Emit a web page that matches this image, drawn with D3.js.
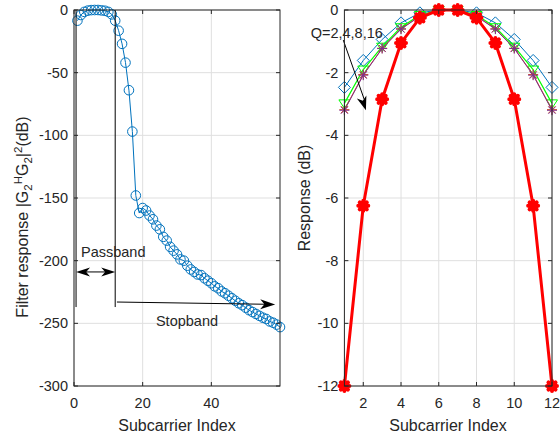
<!DOCTYPE html>
<html>
<head>
<meta charset="utf-8">
<script src="https://cdn.jsdelivr.net/npm/d3@7"></script>
<style>
  body { margin: 0; background: #fff; }
  text { font-family: "Liberation Sans", Arial, sans-serif; fill: #262626; }
</style>
</head>
<body>
<svg id="chart" width="560" height="441"></svg>
<script>
// left panel: filter response over 60 subcarriers
const filterIndex = [1, 2, 3, 4, 5, 6, 7, 8, 9, 10, 11, 12, 13, 14, 15, 16, 17, 18, 19, 20,
  21, 22, 23, 24, 25, 26, 27, 28, 29, 30, 31, 32, 33, 34, 35, 36, 37, 38, 39, 40,
  41, 42, 43, 44, 45, 46, 47, 48, 49, 50, 51, 52, 53, 54, 55, 56, 57, 58, 59, 60];
const filterDb = [-8.5, -4, -1.5, -0.5, -0.1, 0, 0, -0.3, -0.6, -1.5, -3.5, -8.5, -16.5, -27, -42, -64, -97, -148, -162, -158,
  -160, -164, -167, -172, -175, -181, -184, -189, -192, -195, -199, -200, -204, -207, -209, -211, -211.5, -214, -216, -218,
  -220.5, -222, -224.5, -226, -228, -230, -232, -234, -235.5, -237.5, -239.5, -241, -242.5, -244, -245.5, -246.5, -248.5, -249.5, -251, -253];
const leftXTicks = [0, 20, 40];
const leftYTicks = [0, -50, -100, -150, -200, -250, -300];

// right panel: response per subcarrier
const subcarriers = [1, 2, 3, 4, 5, 6, 7, 8, 9, 10, 11, 12];
const respBlue = [-2.47, -1.61, -0.94, -0.41, -0.09, 0, 0, -0.09, -0.41, -0.94, -1.61, -2.47];
const respGreen = [-2.98, -1.9, -1.17, -0.55, -0.16, 0, 0, -0.16, -0.55, -1.17, -1.9, -2.98];
const respOrange = [-3.18, -2.06, -1.22, -0.6, -0.19, 0, 0, -0.19, -0.6, -1.22, -2.06, -3.18];
const respPurple = [-3.2, -2.08, -1.23, -0.61, -0.2, 0, 0, -0.2, -0.61, -1.23, -2.08, -3.2];
const respRed = [-12, -6.25, -2.85, -1.05, -0.25, 0, 0, -0.25, -1.05, -2.85, -6.25, -12];
const rightXTicks = [2, 4, 6, 8, 10, 12];
const rightYTicks = [0, -2, -4, -6, -8, -10, -12];

const svg = d3.select("#chart");
const TICK = 4;

function drawGrid(x, y, xTicks, yTicks) {
  const [x0, x1] = x.range();
  const [y0, y1] = y.range();
  const g = svg.append("g").attr("stroke", "#dfdfdf").attr("stroke-width", 1);
  g.selectAll(".gx").data(xTicks).join("line")
    .attr("x1", x).attr("x2", x).attr("y1", y0).attr("y2", y1);
  g.selectAll(".gy").data(yTicks).join("line")
    .attr("y1", y).attr("y2", y).attr("x1", x0).attr("x2", x1);
}

function drawFrame(x, y, xTicks, yTicks) {
  const [x0, x1] = x.range();
  const [y0, y1] = y.range();
  const g = svg.append("g").attr("stroke", "#262626").attr("stroke-width", 1);
  g.append("rect").attr("x", x0).attr("y", y1).attr("width", x1 - x0).attr("height", y0 - y1)
    .attr("fill", "none");
  xTicks.forEach((t) => {
    g.append("line").attr("x1", x(t)).attr("x2", x(t)).attr("y1", y0).attr("y2", y0 - TICK);
    g.append("line").attr("x1", x(t)).attr("x2", x(t)).attr("y1", y1).attr("y2", y1 + TICK);
  });
  yTicks.forEach((t) => {
    g.append("line").attr("y1", y(t)).attr("y2", y(t)).attr("x1", x0).attr("x2", x0 + TICK);
    g.append("line").attr("y1", y(t)).attr("y2", y(t)).attr("x1", x1).attr("x2", x1 - TICK);
  });
  svg.append("g").selectAll("text").data(xTicks).join("text")
    .attr("x", x).attr("y", y0 + 22)
    .attr("text-anchor", "middle").style("font-size", "14.5px")
    .text((d) => d);
  svg.append("g").selectAll("text").data(yTicks).join("text")
    .attr("x", x0 - 6).attr("y", (d) => y(d) + 5)
    .attr("text-anchor", "end").style("font-size", "14.5px")
    .text((d) => d);
}

function arrowHead(x1, y1, x2, y2, len, half) {
  const a = Math.atan2(y2 - y1, x2 - x1);
  const c = Math.cos(a), s = Math.sin(a);
  const bx = x2 - len * c, by = y2 - len * s;
  const nx = x2 - len * 0.72 * c, ny = y2 - len * 0.72 * s;
  svg.append("path")
    .attr("d", `M${x2},${y2}L${bx - half * s},${by + half * c}L${nx},${ny}L${bx + half * s},${by - half * c}Z`)
    .attr("fill", "#000");
}

function starPath(r) {
  const d = r * 0.7071;
  return `M${-r},0L${r},0M0,${-r}L0,${r}M${-d},${-d}L${d},${d}M${-d},${d}L${d},${-d}`;
}

// ---------- left panel ----------
const xL = d3.scaleLinear().domain([0, 60]).range([74, 280]);
const yL = d3.scaleLinear().domain([-300, 0]).range([386, 10]);
drawGrid(xL, yL, leftXTicks, leftYTicks);

const leftPts = filterIndex.map((d, i) => [d, filterDb[i]]);
svg.append("path")
  .datum(leftPts)
  .attr("d", d3.line().x((d) => xL(d[0])).y((d) => yL(d[1])))
  .attr("fill", "none").attr("stroke", "#0072BD").attr("stroke-width", 1);
svg.append("g").selectAll("circle").data(leftPts).join("circle")
  .attr("cx", (d) => xL(d[0])).attr("cy", (d) => yL(d[1])).attr("r", 4.8)
  .attr("fill", "none").attr("stroke", "#0072BD").attr("stroke-width", 1);

// passband / stopband annotations
const passLo = 0.6, passHi = 12;
const ann = svg.append("g").attr("stroke", "#000").attr("stroke-width", 1);
ann.append("line").attr("x1", xL(passLo)).attr("x2", xL(passLo)).attr("y1", yL(0)).attr("y2", yL(-237));
ann.append("line").attr("x1", xL(passHi)).attr("x2", xL(passHi)).attr("y1", yL(0)).attr("y2", yL(-237));
ann.append("line").attr("x1", xL(passLo) + 6).attr("x2", xL(passHi) - 6).attr("y1", yL(-209)).attr("y2", yL(-209));
arrowHead(xL(passHi), yL(-209), xL(passLo), yL(-209), 14, 4.5);
arrowHead(xL(passLo), yL(-209), xL(passHi), yL(-209), 14, 4.5);
svg.append("text").attr("x", 81).attr("y", 257).style("font-size", "14.5px").text("Passband");

ann.append("line").attr("x1", xL(12.5)).attr("y1", yL(-233)).attr("x2", xL(58.6) - 8).attr("y2", yL(-234.8));
arrowHead(xL(12.5), yL(-233), xL(58.6), yL(-235), 15, 5);
svg.append("text").attr("x", 187).attr("y", 326).attr("text-anchor", "middle")
  .style("font-size", "14.5px").text("Stopband");

drawFrame(xL, yL, leftXTicks, leftYTicks);

svg.append("text").attr("x", 177).attr("y", 431).attr("text-anchor", "middle")
  .style("font-size", "16px").text("Subcarrier Index");

const yLab = svg.append("text")
  .attr("transform", "translate(27.5,217) rotate(-90)")
  .attr("text-anchor", "middle").style("font-size", "16px");
yLab.append("tspan").text("Filter response |G");
yLab.append("tspan").attr("dy", 4).style("font-size", "11.5px").text("2");
yLab.append("tspan").attr("dy", -10).style("font-size", "11.5px").text("H");
yLab.append("tspan").attr("dy", 6).text("G");
yLab.append("tspan").attr("dy", 4).style("font-size", "11.5px").text("2");
yLab.append("tspan").attr("dy", -4).text("|");
yLab.append("tspan").attr("dy", -6).style("font-size", "11.5px").text("2");
yLab.append("tspan").attr("dy", 6).text("(dB)");

// ---------- right panel ----------
const xR = d3.scaleLinear().domain([1, 12]).range([344.4, 552]);
const yR = d3.scaleLinear().domain([-12, 0]).range([386, 10]);
drawGrid(xR, yR, rightXTicks, rightYTicks);

const lineR = d3.line().x((d) => xR(d[0])).y((d) => yR(d[1]));
function series(values, color, width, marker) {
  const pts = subcarriers.map((d, i) => [d, values[i]]);
  svg.append("path").datum(pts).attr("d", lineR)
    .attr("fill", "none").attr("stroke", color).attr("stroke-width", width)
    .attr("stroke-linejoin", "round");
  const m = svg.append("g").selectAll("path").data(pts).join("path")
    .attr("transform", (d) => `translate(${xR(d[0])},${yR(d[1])})`)
    .attr("fill", "none").attr("stroke", color);
  if (marker === "diamond") m.attr("d", "M0,-6L6,0L0,6L-6,0Z").attr("stroke-width", 1);
  if (marker === "triangle") m.attr("d", "M-5.5,-3.5L5.5,-3.5L0,5Z").attr("stroke-width", 1);
  if (marker === "star") m.attr("d", starPath(5)).attr("stroke-width", 1);
  if (marker === "bigstar") m.attr("d", starPath(5)).attr("stroke-width", 4)
    .attr("stroke-linecap", "round");
}
series(respBlue, "#0072BD", 1, "diamond");
series(respGreen, "#00FF00", 1.2, "triangle");
series(respOrange, "#D95319", 1, "star");
series(respPurple, "#7E2F8E", 1, "star");
series(respRed, "#FF0000", 3, "bigstar");

// Q annotation
svg.append("text").attr("x", 310.7).attr("y", 37.5).style("font-size", "14.5px").text("Q=2,4,8,16");
svg.append("line").attr("x1", xR(0.94)).attr("y1", yR(-0.96)).attr("x2", xR(2.05)).attr("y2", yR(-2.85))
  .attr("stroke", "#000").attr("stroke-width", 1);
arrowHead(xR(0.94), yR(-0.96), xR(2.14), yR(-3.2), 14, 5);

drawFrame(xR, yR, rightXTicks, rightYTicks);

svg.append("text").attr("x", 448).attr("y", 431).attr("text-anchor", "middle")
  .style("font-size", "16px").text("Subcarrier Index");
svg.append("text").attr("transform", "translate(309.5,198) rotate(-90)")
  .attr("text-anchor", "middle").style("font-size", "16px").text("Response (dB)");
</script>
</body>
</html>
